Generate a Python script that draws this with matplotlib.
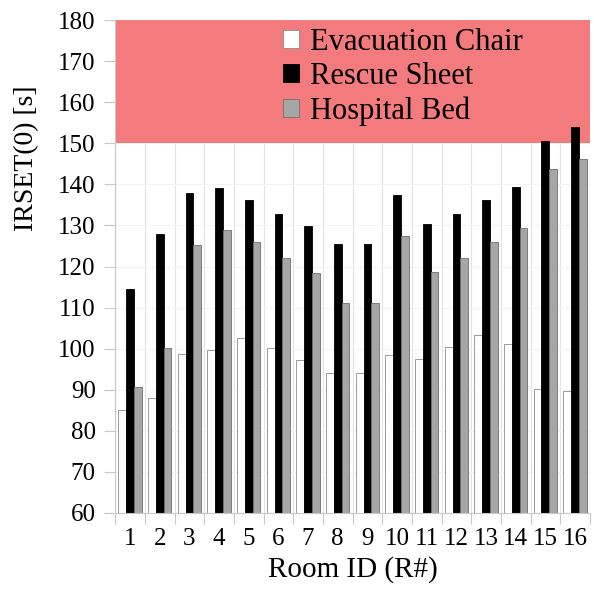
import numpy as np
import matplotlib
matplotlib.use('Agg')
import matplotlib.pyplot as plt
from matplotlib.ticker import MultipleLocator

# === DATA ===
rooms = [str(i) for i in range(1, 17)]
evac_chair = [85.1, 87.9, 98.8, 99.7, 102.7, 100.2, 97.3, 94.0,
              94.0, 98.5, 97.5, 100.4, 103.3, 101.1, 90.1, 89.7]
rescue_sheet = [114.5, 127.9, 137.9, 139.2, 136.1, 132.7, 129.9, 125.4,
                125.4, 137.3, 130.3, 132.8, 136.2, 139.4, 150.6, 153.9]
hospital_bed = [90.7, 100.2, 125.2, 128.8, 125.9, 122.2, 118.4, 111.1,
                111.1, 127.4, 118.7, 122.1, 126.0, 129.5, 143.8, 146.2]
limit = 150

plt.rcParams['font.family'] = ['Liberation Serif', 'DejaVu Serif']

fig = plt.figure(figsize=(5.94, 5.91), dpi=100)
ax = fig.add_axes([0.194, 0.132, 0.799, 0.834])

x = np.arange(len(rooms))
w = 0.26
# red zone above the limit, drawn over the grid
ax.axhspan(limit, 180, facecolor='#f47b7d', edgecolor='none', zorder=1)
ax.bar(x - w, evac_chair, w, color='white', edgecolor='#8c8c8c',
       linewidth=0.6, label='Evacuation Chair', zorder=2)
ax.bar(x, rescue_sheet, w, color='black', edgecolor='black',
       linewidth=0.6, label='Rescue Sheet', zorder=2)
ax.bar(x + w, hospital_bed, w, color='#a6a6a6', edgecolor='#6e6e6e',
       linewidth=0.6, label='Hospital Bed', zorder=2)

ax.set_xlim(-0.5, len(rooms) - 0.5)
ax.set_ylim(60, 180)
ax.set_xticks(x)
ax.set_xticklabels(rooms, fontsize=18)
ax.set_xticks(np.arange(-0.5, len(rooms)), minor=True)
ax.yaxis.set_major_locator(MultipleLocator(10))
ax.tick_params(axis='y', labelsize=18, length=8, width=0.8, color='#c8c8c8', pad=6)
ax.tick_params(axis='x', which='major', length=0, pad=11)
ax.tick_params(axis='x', which='minor', length=8, width=0.8, color='#c8c8c8')
ax.grid(axis='x', which='minor', color='#e2e2e2', linewidth=0.8)
ax.grid(axis='y', which='major', color='#f3f3f3', linewidth=0.8)
ax.set_axisbelow(True)

for side in ['top', 'right']:
    ax.spines[side].set_visible(False)
for side in ['left', 'bottom']:
    ax.spines[side].set_color('#c8c8c8')

ax.set_xlabel('Room ID (R#)', fontsize=21, labelpad=4)
ax.set_ylabel('IRSET(0) [s]', fontsize=20)
ax.yaxis.set_label_coords(-0.160, 0.72)

ax.legend(loc='upper left', bbox_to_anchor=(0.354, 0.984), frameon=False,
          fontsize=22, handlelength=0.52, handleheight=0.52, handletextpad=0.35,
          labelspacing=0.17, borderpad=0, borderaxespad=0)

fig.savefig('out.png', dpi=100)
